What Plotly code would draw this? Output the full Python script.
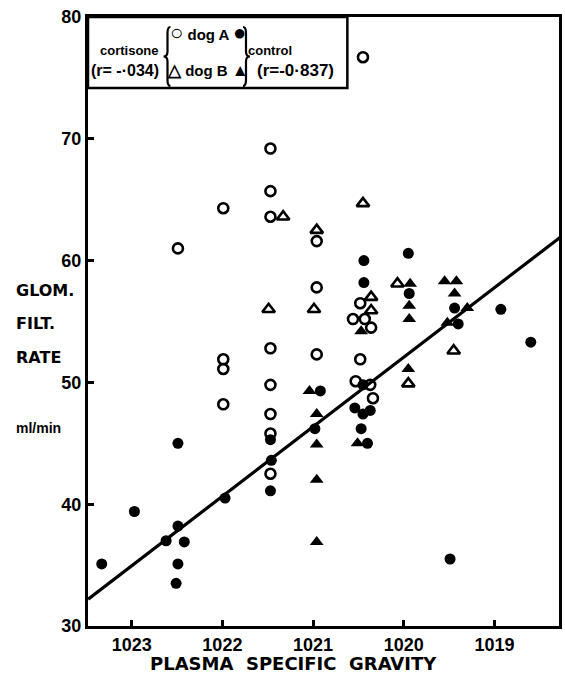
import plotly.graph_objects as go

# ---- data ----
cort_A_x = [1020.45, 1021.47, 1021.47, 1021.47, 1021.99, 1022.49, 1020.96, 1020.96, 1021.47, 1020.96,
            1021.99, 1021.99, 1021.47, 1021.99, 1021.47, 1021.47, 1021.47, 1020.48, 1020.56, 1020.43,
            1020.36, 1020.48, 1020.53, 1020.37, 1020.34]
cort_A_y = [76.7, 69.2, 65.7, 63.6, 64.3, 61.0, 61.6, 57.8, 52.8, 52.3,
            51.9, 51.1, 49.8, 48.2, 47.4, 45.8, 42.5, 56.5, 55.2, 55.2,
            54.5, 51.9, 50.1, 49.8, 48.7]

cort_B_x = [1020.45, 1020.96, 1021.33, 1021.49, 1020.99, 1020.36, 1020.36, 1020.07, 1019.45, 1019.95]
cort_B_y = [64.7, 62.5, 63.6, 56.0, 56.0, 57.0, 55.9, 58.1, 52.6, 49.9]

ctrl_A_x = [1023.33, 1022.97, 1022.62, 1022.49, 1022.49, 1022.42, 1022.49, 1022.51, 1021.97, 1021.47,
            1021.46, 1021.47, 1020.92, 1020.98, 1020.44, 1020.44, 1020.45, 1020.54, 1020.45, 1020.37,
            1020.47, 1020.40, 1019.95, 1019.94, 1019.44, 1019.40, 1018.93, 1018.60, 1019.49]
ctrl_A_y = [35.1, 39.4, 37.0, 45.0, 38.2, 36.9, 35.1, 33.5, 40.5, 45.3,
            43.6, 41.1, 49.3, 46.2, 60.0, 58.2, 49.8, 47.9, 47.4, 47.7,
            46.2, 45.0, 60.6, 57.3, 56.1, 54.8, 56.0, 53.3, 35.5]

ctrl_B_x = [1021.04, 1020.96, 1020.96, 1020.96, 1020.96, 1020.47, 1020.51, 1019.93, 1019.94, 1019.94,
            1019.95, 1019.55, 1019.42, 1019.44, 1019.30, 1019.52]
ctrl_B_y = [49.3, 47.4, 44.9, 42.0, 36.9, 54.2, 45.0, 58.1, 56.3, 55.2,
            51.1, 58.3, 58.3, 57.3, 56.1, 54.9]

line_x = [1023.48, 1018.26]
line_y = [32.2, 62.0]

x_ticks = [1023, 1022, 1021, 1020, 1019]
x_labels = ["1023", "1022", "1021", "1020", "1019"]
y_ticks = [30, 40, 50, 60, 70, 80]
y_labels = ["30", "40", "50", "60", "70", "80"]

# ---- figure ----
W, H = 565, 673
L, R, T, B = 88, 562, 17, 626


def px(x):
    return (x - L) / (R - L)


def py(y):
    return (B - y) / (B - T)


NARROW = "Liberation Sans, Arial, sans-serif"
WIDE = "DejaVu Sans, Verdana, sans-serif"

fig = go.Figure()

fig.add_trace(go.Scatter(x=line_x, y=line_y, mode="lines",
                         line=dict(color="black", width=3.2), hoverinfo="skip"))

fig.add_trace(go.Scatter(x=cort_A_x, y=cort_A_y, mode="markers",
                         marker=dict(symbol="circle-open", color="black", size=10,
                                     line=dict(color="black", width=2.6)), name="cortisone dog A"))
fig.add_trace(go.Scatter(x=cort_B_x, y=cort_B_y, mode="markers",
                         marker=dict(symbol="triangle-up-open", color="black", size=11,
                                     line=dict(color="black", width=2.6)), name="cortisone dog B"))
fig.add_trace(go.Scatter(x=ctrl_A_x, y=ctrl_A_y, mode="markers",
                         marker=dict(symbol="circle", color="black", size=11,
                                     line=dict(width=0)), name="control dog A"))
fig.add_trace(go.Scatter(x=ctrl_B_x, y=ctrl_B_y, mode="markers",
                         marker=dict(symbol="triangle-up", color="black", size=12,
                                     line=dict(width=0)), name="control dog B"))

fig.update_xaxes(range=[1023 + (132 - L) / 91.4, 1019 - (R - 497) / 91.4], autorange=False,
                 tickvals=x_ticks, ticktext=x_labels, ticks="inside", ticklen=6, tickwidth=2.5,
                 tickcolor="black", showline=True, linewidth=3, linecolor="black", mirror=True,
                 showgrid=False, zeroline=False,
                 tickfont=dict(family=NARROW, size=18, color="black", weight="bold"))
fig.update_yaxes(range=[30, 80], autorange=False,
                 tickvals=y_ticks, ticktext=y_labels, ticks="inside", ticklen=6, tickwidth=2.5,
                 tickcolor="black", showline=True, linewidth=3, linecolor="black", mirror=True,
                 showgrid=False, zeroline=False,
                 tickfont=dict(family=NARROW, size=18, color="black", weight="bold"))

ann = []


def text(x, y, s, size, family=WIDE, xanchor="left", weight="bold"):
    ann.append(dict(x=px(x), y=py(y), xref="paper", yref="paper", text=s, showarrow=False,
                    xanchor=xanchor, yanchor="middle",
                    font=dict(family=family, size=size, color="black", weight=weight)))


# y-axis title
text(14, 290, "GLOM.", 16)
text(14, 323, "FILT.", 16)
text(14, 357, "RATE", 16)
text(14, 428, "ml/min", 14, family=NARROW)
# x-axis title
text(295, 663, "PLASMA&nbsp;&nbsp;SPECIFIC&nbsp;&nbsp;GRAVITY", 18, xanchor="center")

# legend box contents
circ = '<span style="font-size:22px">{}</span>'
tri = '<span style="font-size:17px">{}</span>'
text(130, 50, "cortisone", 13, family=NARROW, xanchor="center")
text(125, 70, "(r= -·034)", 16, family=NARROW, xanchor="center")
text(209, 33, circ.format("○") + " dog A " + circ.format("●"), 15, family=NARROW, xanchor="center")
text(209, 70, tri.format("△") + " dog B " + tri.format("▲"), 15, family=NARROW, xanchor="center")
text(271, 50, "control", 13, family=NARROW, xanchor="center")
text(297, 70, "(r=-0·837)", 17, family=NARROW, xanchor="center")


def brace_path(xc, y0, y1, d):
    # d>0: '{' opening left tip; d<0: '}' tip to the right
    ym = (y0 + y1) / 2
    xa = xc + d * 3      # arm ends
    xt = xc - d * 4      # tip
    pts = [
        ("M", [(xa, y0)]),
        ("Q", [(xc, y0), (xc, y0 + 6)]),
        ("L", [(xc, ym - 5)]),
        ("Q", [(xc, ym), (xt, ym)]),
        ("Q", [(xc, ym), (xc, ym + 5)]),
        ("L", [(xc, y1 - 6)]),
        ("Q", [(xc, y1), (xa, y1)]),
    ]
    s = ""
    for cmd, pp in pts:
        s += cmd + " " + " ".join(f"{px(a):.5f},{py(b):.5f}" for a, b in pp) + " "
    return s.strip()


shapes = [
    dict(type="rect", xref="paper", yref="paper", x0=0, x1=px(349), y0=py(88), y1=1,
         line=dict(color="black", width=2.5), fillcolor="rgba(0,0,0,0)"),
    dict(type="path", xref="paper", yref="paper", path=brace_path(168, 27, 86, 1),
         line=dict(color="black", width=2.2)),
    dict(type="path", xref="paper", yref="paper", path=brace_path(247, 27, 86, -1),
         line=dict(color="black", width=2.2)),
]

fig.update_layout(width=W, height=H, margin=dict(l=L, r=W - R, t=T, b=H - B),
                  paper_bgcolor="white", plot_bgcolor="white", showlegend=False,
                  annotations=ann, shapes=shapes)

fig.write_html("out.html")
